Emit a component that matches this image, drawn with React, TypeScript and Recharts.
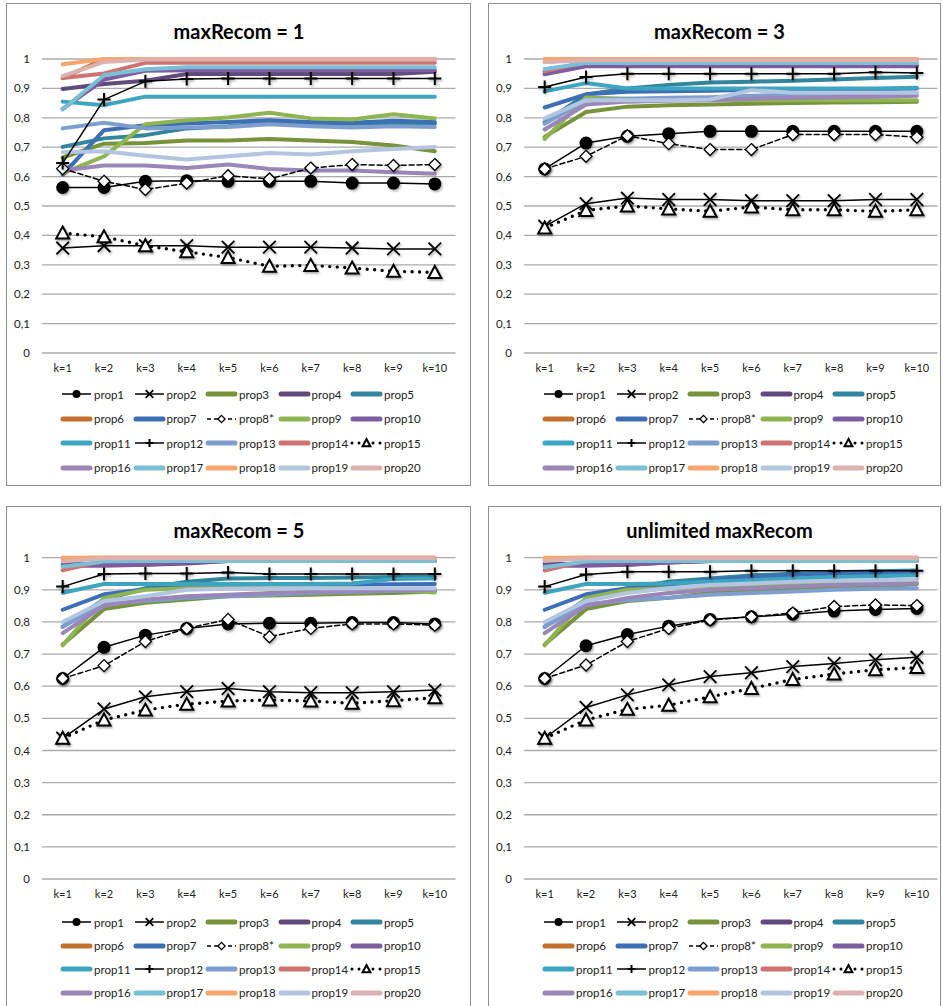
import React from 'react';
import { LineChart, Line, XAxis, YAxis, CartesianGrid } from 'recharts';

const categories = ['k=1', 'k=2', 'k=3', 'k=4', 'k=5', 'k=6', 'k=7', 'k=8', 'k=9', 'k=10'];
const yTicks = [0, 0.1, 0.2, 0.3, 0.4, 0.5, 0.6, 0.7, 0.8, 0.9, 1];
const seriesNames = ['prop1', 'prop2', 'prop3', 'prop4', 'prop5', 'prop6', 'prop7', 'prop8*', 'prop9', 'prop10',
  'prop11', 'prop12', 'prop13', 'prop14', 'prop15', 'prop16', 'prop17', 'prop18', 'prop19', 'prop20'];
const seriesColors = ['#000000', '#000000', '#77933C', '#604A7B', '#31859C', '#C4712F', '#3D6FB6', '#000000', '#8FB452', '#7D5C9F',
  '#3EA5C1', '#000000', '#7E9ECF', '#CF7372', '#000000', '#9A86B9', '#79BFD6', '#F8A66E', '#B3C5E1', '#DDB1B0'];
const panelTitles = ['maxRecom = 1', 'maxRecom = 3', 'maxRecom = 5', 'unlimited maxRecom'];

// ---- maxRecom = 1 ----
const a_prop1 = [0.563, 0.563, 0.584, 0.586, 0.584, 0.584, 0.584, 0.578, 0.578, 0.575];
const a_prop2 = [0.357, 0.365, 0.365, 0.365, 0.36, 0.36, 0.36, 0.357, 0.354, 0.354];
const a_prop3 = [0.665, 0.712, 0.714, 0.723, 0.723, 0.728, 0.723, 0.718, 0.706, 0.686];
const a_prop4 = [0.898, 0.915, 0.926, 0.949, 0.949, 0.949, 0.949, 0.949, 0.949, 0.957];
const a_prop5 = [0.701, 0.73, 0.741, 0.764, 0.771, 0.783, 0.78, 0.78, 0.782, 0.78];
const a_prop6 = [0.935, 1, 1, 1, 1, 1, 1, 1, 1, 1];
const a_prop7 = [0.607, 0.758, 0.775, 0.781, 0.786, 0.792, 0.786, 0.783, 0.79, 0.786];
const a_prop8 = [0.627, 0.584, 0.556, 0.578, 0.603, 0.592, 0.629, 0.641, 0.638, 0.641];
const a_prop9 = [0.612, 0.669, 0.778, 0.792, 0.801, 0.817, 0.798, 0.794, 0.812, 0.798];
const a_prop10 = [0.83, 0.93, 0.96, 0.962, 0.962, 0.962, 0.962, 0.962, 0.962, 0.962];
const a_prop11 = [0.855, 0.843, 0.872, 0.872, 0.872, 0.872, 0.872, 0.872, 0.872, 0.872];
const a_prop12 = [0.646, 0.862, 0.924, 0.932, 0.934, 0.934, 0.934, 0.934, 0.934, 0.934];
const a_prop13 = [0.764, 0.783, 0.764, 0.767, 0.769, 0.778, 0.771, 0.767, 0.771, 0.769];
const a_prop14 = [0.935, 0.951, 0.987, 0.987, 0.987, 0.987, 0.987, 0.987, 0.987, 0.987];
const a_prop15 = [0.408, 0.395, 0.365, 0.344, 0.325, 0.295, 0.298, 0.289, 0.278, 0.274];
const a_prop16 = [0.621, 0.638, 0.638, 0.629, 0.641, 0.626, 0.621, 0.621, 0.615, 0.61];
const a_prop17 = [0.828, 0.945, 0.965, 0.972, 0.972, 0.972, 0.972, 0.972, 0.972, 0.972];
const a_prop18 = [0.982, 1, 1, 1, 1, 1, 1, 1, 1, 1];
const a_prop19 = [0.683, 0.686, 0.671, 0.658, 0.669, 0.68, 0.675, 0.686, 0.694, 0.701];
const a_prop20 = [0.942, 0.99, 0.998, 0.998, 0.998, 0.998, 0.998, 0.998, 0.998, 0.998];

// ---- maxRecom = 3 ----
const b_prop1 = [0.626, 0.714, 0.737, 0.746, 0.754, 0.754, 0.754, 0.754, 0.754, 0.754];
const b_prop2 = [0.431, 0.508, 0.527, 0.522, 0.522, 0.518, 0.518, 0.518, 0.522, 0.522];
const b_prop3 = [0.735, 0.82, 0.838, 0.843, 0.845, 0.848, 0.85, 0.852, 0.853, 0.855];
const b_prop4 = [0.952, 0.977, 0.977, 0.977, 0.977, 0.977, 0.977, 0.977, 0.977, 0.977];
const b_prop5 = [0.785, 0.879, 0.9, 0.912, 0.92, 0.923, 0.926, 0.93, 0.935, 0.94];
const b_prop6 = [0.99, 1, 1, 1, 1, 1, 1, 1, 1, 1];
const b_prop7 = [0.835, 0.88, 0.889, 0.89, 0.892, 0.895, 0.895, 0.895, 0.897, 0.9];
const b_prop8 = [0.626, 0.669, 0.739, 0.712, 0.692, 0.692, 0.743, 0.743, 0.743, 0.734];
const b_prop9 = [0.728, 0.869, 0.865, 0.862, 0.862, 0.86, 0.86, 0.86, 0.86, 0.86];
const b_prop10 = [0.948, 0.975, 0.975, 0.975, 0.975, 0.975, 0.975, 0.975, 0.975, 0.975];
const b_prop11 = [0.89, 0.918, 0.9, 0.9, 0.9, 0.9, 0.9, 0.9, 0.9, 0.902];
const b_prop12 = [0.905, 0.939, 0.95, 0.95, 0.95, 0.95, 0.95, 0.95, 0.955, 0.952];
const b_prop13 = [0.78, 0.86, 0.865, 0.868, 0.87, 0.875, 0.878, 0.88, 0.882, 0.885];
const b_prop14 = [0.958, 0.99, 0.992, 0.992, 0.992, 0.992, 0.992, 0.992, 0.992, 0.992];
const b_prop15 = [0.425, 0.485, 0.5, 0.49, 0.482, 0.497, 0.487, 0.487, 0.482, 0.487];
const b_prop16 = [0.76, 0.845, 0.855, 0.858, 0.86, 0.865, 0.868, 0.87, 0.872, 0.875];
const b_prop17 = [0.966, 0.986, 0.986, 0.986, 0.986, 0.986, 0.986, 0.986, 0.986, 0.986];
const b_prop18 = [1, 1, 1, 1, 1, 1, 1, 1, 1, 1];
const b_prop19 = [0.798, 0.86, 0.86, 0.86, 0.862, 0.894, 0.885, 0.885, 0.885, 0.885];
const b_prop20 = [0.99, 0.996, 0.996, 0.996, 0.996, 0.996, 0.996, 0.996, 0.996, 0.996];

// ---- maxRecom = 5 ----
const c_prop1 = [0.624, 0.721, 0.759, 0.78, 0.794, 0.796, 0.796, 0.798, 0.798, 0.794];
const c_prop2 = [0.438, 0.529, 0.567, 0.583, 0.593, 0.583, 0.58, 0.58, 0.583, 0.588];
const c_prop3 = [0.73, 0.84, 0.86, 0.87, 0.88, 0.882, 0.885, 0.888, 0.89, 0.895];
const c_prop4 = [0.982, 0.978, 0.978, 0.982, 0.99, 0.99, 0.99, 0.99, 0.99, 0.99];
const c_prop5 = [0.785, 0.87, 0.905, 0.925, 0.935, 0.937, 0.937, 0.938, 0.94, 0.94];
const c_prop6 = [0.998, 1, 1, 1, 1, 1, 1, 1, 1, 1];
const c_prop7 = [0.838, 0.886, 0.902, 0.91, 0.912, 0.914, 0.915, 0.916, 0.917, 0.918];
const c_prop8 = [0.624, 0.664, 0.739, 0.78, 0.808, 0.754, 0.78, 0.794, 0.794, 0.79];
const c_prop9 = [0.727, 0.875, 0.9, 0.905, 0.905, 0.905, 0.905, 0.905, 0.9, 0.892];
const c_prop10 = [0.975, 0.975, 0.978, 0.985, 0.99, 0.99, 0.99, 0.99, 0.99, 0.99];
const c_prop11 = [0.891, 0.918, 0.918, 0.918, 0.918, 0.918, 0.918, 0.92, 0.934, 0.935];
const c_prop12 = [0.91, 0.949, 0.951, 0.951, 0.954, 0.949, 0.949, 0.949, 0.949, 0.949];
const c_prop13 = [0.785, 0.855, 0.865, 0.875, 0.88, 0.885, 0.89, 0.893, 0.897, 0.9];
const c_prop14 = [0.961, 0.99, 0.995, 0.995, 0.995, 0.995, 0.995, 0.995, 0.995, 0.995];
const c_prop15 = [0.438, 0.495, 0.526, 0.544, 0.554, 0.557, 0.554, 0.547, 0.555, 0.564];
const c_prop16 = [0.765, 0.85, 0.87, 0.88, 0.885, 0.89, 0.893, 0.895, 0.898, 0.9];
const c_prop17 = [0.972, 0.988, 0.99, 0.99, 0.99, 0.99, 0.99, 0.99, 0.99, 0.99];
const c_prop18 = [1, 1, 1, 1, 1, 1, 1, 1, 1, 1];
const c_prop19 = [0.8, 0.865, 0.88, 0.9, 0.903, 0.905, 0.905, 0.905, 0.905, 0.905];
const c_prop20 = [0.988, 0.998, 0.998, 0.998, 0.998, 0.998, 0.998, 0.998, 0.998, 0.998];

// ---- unlimited maxRecom ----
const d_prop1 = [0.624, 0.726, 0.761, 0.787, 0.808, 0.816, 0.824, 0.834, 0.839, 0.842];
const d_prop2 = [0.438, 0.534, 0.573, 0.604, 0.63, 0.642, 0.661, 0.671, 0.682, 0.69];
const d_prop3 = [0.73, 0.84, 0.865, 0.875, 0.89, 0.895, 0.9, 0.905, 0.91, 0.918];
const d_prop4 = [0.982, 0.978, 0.978, 0.985, 0.99, 0.99, 0.99, 0.99, 0.99, 0.99];
const d_prop5 = [0.785, 0.87, 0.905, 0.925, 0.935, 0.945, 0.95, 0.955, 0.958, 0.96];
const d_prop6 = [0.998, 1, 1, 1, 1, 1, 1, 1, 1, 1];
const d_prop7 = [0.838, 0.886, 0.905, 0.915, 0.93, 0.94, 0.945, 0.95, 0.952, 0.955];
const d_prop8 = [0.624, 0.666, 0.739, 0.78, 0.806, 0.816, 0.828, 0.848, 0.853, 0.851];
const d_prop9 = [0.727, 0.875, 0.9, 0.905, 0.91, 0.912, 0.915, 0.918, 0.92, 0.922];
const d_prop10 = [0.975, 0.975, 0.978, 0.985, 0.99, 0.99, 0.99, 0.99, 0.99, 0.99];
const d_prop11 = [0.891, 0.918, 0.918, 0.92, 0.925, 0.93, 0.935, 0.94, 0.942, 0.945];
const d_prop12 = [0.91, 0.948, 0.956, 0.956, 0.956, 0.959, 0.959, 0.959, 0.959, 0.959];
const d_prop13 = [0.785, 0.855, 0.868, 0.875, 0.885, 0.89, 0.895, 0.9, 0.903, 0.905];
const d_prop14 = [0.96, 0.99, 0.995, 0.995, 0.995, 0.995, 0.995, 0.995, 0.995, 0.995];
const d_prop15 = [0.438, 0.495, 0.528, 0.541, 0.567, 0.593, 0.621, 0.638, 0.651, 0.658];
const d_prop16 = [0.765, 0.85, 0.875, 0.89, 0.9, 0.905, 0.91, 0.915, 0.918, 0.92];
const d_prop17 = [0.97, 0.988, 0.99, 0.99, 0.99, 0.99, 0.99, 0.99, 0.99, 0.99];
const d_prop18 = [1, 1, 1, 1, 1, 1, 1, 1, 1, 1];
const d_prop19 = [0.8, 0.865, 0.89, 0.905, 0.915, 0.92, 0.925, 0.928, 0.93, 0.932];
const d_prop20 = [0.99, 0.998, 0.998, 0.998, 0.998, 0.998, 0.998, 0.998, 0.998, 0.998];

const panelSeries = [
  [a_prop1, a_prop2, a_prop3, a_prop4, a_prop5, a_prop6, a_prop7, a_prop8, a_prop9, a_prop10,
    a_prop11, a_prop12, a_prop13, a_prop14, a_prop15, a_prop16, a_prop17, a_prop18, a_prop19, a_prop20],
  [b_prop1, b_prop2, b_prop3, b_prop4, b_prop5, b_prop6, b_prop7, b_prop8, b_prop9, b_prop10,
    b_prop11, b_prop12, b_prop13, b_prop14, b_prop15, b_prop16, b_prop17, b_prop18, b_prop19, b_prop20],
  [c_prop1, c_prop2, c_prop3, c_prop4, c_prop5, c_prop6, c_prop7, c_prop8, c_prop9, c_prop10,
    c_prop11, c_prop12, c_prop13, c_prop14, c_prop15, c_prop16, c_prop17, c_prop18, c_prop19, c_prop20],
  [d_prop1, d_prop2, d_prop3, d_prop4, d_prop5, d_prop6, d_prop7, d_prop8, d_prop9, d_prop10,
    d_prop11, d_prop12, d_prop13, d_prop14, d_prop15, d_prop16, d_prop17, d_prop18, d_prop19, d_prop20],
];

const FONT = 'Lato, "Liberation Sans", Arial, sans-serif';
const blackIdx = [0, 1, 7, 11, 14];
const markerKind: Record<number, string> = { 0: 'circle', 1: 'x', 7: 'diamond', 11: 'plus', 14: 'triangle' };

function drawMarker(kind: string, cx: number, cy: number, key: any, scale = 1, shadow = true) {
  const s = scale;
  const f = shadow ? 'url(#mkShadow)' : undefined;
  if (kind === 'circle') return <circle key={key} filter={f} cx={cx} cy={cy} r={6.5 * s} fill="#000" />;
  if (kind === 'x') return <path key={key} filter={f} d={`M${cx - 6.3 * s},${cy - 6.3 * s}L${cx + 6.3 * s},${cy + 6.3 * s}M${cx - 6.3 * s},${cy + 6.3 * s}L${cx + 6.3 * s},${cy - 6.3 * s}`} stroke="#000" strokeWidth={1.8} fill="none" />;
  if (kind === 'plus') return <path key={key} filter={f} d={`M${cx - 6.5 * s},${cy}H${cx + 6.5 * s}M${cx},${cy - 6.5 * s}V${cy + 6.5 * s}`} stroke="#000" strokeWidth={2} fill="none" />;
  if (kind === 'diamond') return <path key={key} filter={f} d={`M${cx},${cy - 6 * s}L${cx + 6 * s},${cy}L${cx},${cy + 6 * s}L${cx - 6 * s},${cy}Z`} stroke="#000" strokeWidth={1.3} fill="#fff" />;
  return <path key={key} filter={f} d={`M${cx},${cy - 6.5 * s}L${cx + 6.5 * s},${cy + 5.5 * s}L${cx - 6.5 * s},${cy + 5.5 * s}Z`} stroke="#000" strokeWidth={2} fill="#fff" />;
}

function seriesStyle(j: number) {
  if (j === 0 || j === 1 || j === 11) return { strokeWidth: 1.5, strokeDasharray: undefined as any };
  if (j === 7) return { strokeWidth: 1.5, strokeDasharray: '5 3' };
  if (j === 14) return { strokeWidth: 3.4, strokeDasharray: '0 7.5' };
  return { strokeWidth: 4, strokeDasharray: undefined as any };
}

const fmtY = (v: number) => (v === 0 ? '0' : v === 1 ? '1' : v.toFixed(1).replace('.', ','));

type PanelGeom = { left: number; top: number; width: number; height: number; marginTop: number; marginRight: number };

function Panel({ idx, g }: { idx: number; g: PanelGeom }) {
  const vals = panelSeries[idx];
  const rows = categories.map((c, i) => {
    const r: any = { k: c };
    seriesNames.forEach((n, j) => { r[n] = vals[j][i]; });
    return r;
  });
  const order = seriesNames.map((_, j) => j).filter((j) => !blackIdx.includes(j)).concat(blackIdx);
  const plotW = g.width - 42 - g.marginRight;
  const pad = plotW / categories.length / 2;
  return (
    <div style={{ position: 'absolute', left: g.left, top: g.top }}>
      <LineChart width={g.width} height={g.height} data={rows}
        margin={{ top: g.marginTop, right: g.marginRight, left: 12, bottom: 0 }}>
        <CartesianGrid vertical={false} stroke="#ababab" strokeWidth={1.3} />
        <XAxis dataKey="k" axisLine={false} tickLine={false} tickSize={0} tickMargin={11} height={27} interval={0}
          padding={{ left: pad, right: pad }}
          tick={{ fontSize: 11, fill: '#222', fontFamily: FONT }} />
        <YAxis domain={[0, 1]} ticks={yTicks} tickFormatter={fmtY} axisLine={false} tickLine={false} tickSize={0}
          tickMargin={12} width={30} interval={0} tick={{ fontSize: 11.5, fill: '#222', fontFamily: FONT }} />
        {order.map((j) => {
          const st = seriesStyle(j);
          const kind = markerKind[j];
          return (
            <Line key={seriesNames[j]} type="linear" dataKey={seriesNames[j]} stroke={seriesColors[j]}
              strokeWidth={st.strokeWidth} strokeDasharray={st.strokeDasharray}
              strokeLinecap="round" strokeLinejoin="round" isAnimationActive={false}
              dot={kind ? (p: any) => drawMarker(kind, p.cx, p.cy, `${seriesNames[j]}-${p.index}`) : false}
              activeDot={false} />
          );
        })}
      </LineChart>
    </div>
  );
}

function LegendItem({ j }: { j: number }) {
  const kind = markerKind[j];
  const st = seriesStyle(j);
  const isBlack = blackIdx.includes(j);
  return (
    <div style={{ display: 'flex', alignItems: 'center', width: 72.5, height: 14 }}>
      <svg width={33} height={14} style={{ flex: 'none' }}>
        {isBlack ? (
          <g>
            <line x1={2} y1={7} x2={31} y2={7} stroke="#000" strokeWidth={j === 14 ? 3 : 1.5}
              strokeDasharray={j === 14 ? '0 7' : j === 7 ? '4 3' : undefined} strokeLinecap={j === 14 ? 'round' : 'butt'} />
            {drawMarker(kind, 16.5, 7, 'm', j === 0 ? 0.62 : 0.6, false)}
          </g>
        ) : (
          <line x1={3} y1={7} x2={30} y2={7} stroke={seriesColors[j]} strokeWidth={st.strokeWidth + 1} strokeLinecap="round" />
        )}
      </svg>
      <span style={{ fontSize: 11.5, fontFamily: FONT, color: '#222', marginLeft: 1, whiteSpace: 'nowrap' }}>{seriesNames[j]}</span>
    </div>
  );
}

function LegendBlock({ left, top, rowGap }: { left: number; top: number; rowGap: number }) {
  const rows = [0, 1, 2, 3];
  return (
    <div style={{ position: 'absolute', left, top }}>
      {rows.map((r) => (
        <div key={r} style={{ display: 'flex', height: rowGap }}>
          {[0, 1, 2, 3, 4].map((c) => <LegendItem key={c} j={r * 5 + c} />)}
        </div>
      ))}
    </div>
  );
}

const boxStyle = (left: number, top: number, width: number, height: number): React.CSSProperties => ({
  position: 'absolute', left, top, width, height, boxSizing: 'border-box', border: '1.5px solid #8f8f8f', background: '#fff',
});

const titleStyle = (cx: number, cy: number): React.CSSProperties => ({
  position: 'absolute', left: cx - 150, width: 300, top: cy - 13, height: 26, lineHeight: '26px', textAlign: 'center',
  fontFamily: FONT, fontWeight: 700, fontSize: 20, color: '#000',
});

export default function App() {
  return (
    <div style={{ position: 'absolute', left: 0, top: 0, width: 943, height: 1006, overflow: 'hidden', background: '#fff' }}>
      <svg width={0} height={0} style={{ position: 'absolute' }}>
        <defs>
          <filter id="mkShadow" x="-50%" y="-50%" width="200%" height="200%">
            <feDropShadow dx={1.2} dy={1.5} stdDeviation={1} floodColor="#000" floodOpacity={0.35} />
          </filter>
        </defs>
      </svg>
      <div style={boxStyle(6, 3, 465, 483)} />
      <div style={boxStyle(488, 3, 453, 483)} />
      <div style={boxStyle(6, 506, 465, 510)} />
      <div style={boxStyle(488, 506, 453, 510)} />

      <div style={titleStyle(239, 31)}>{panelTitles[0]}</div>
      <div style={titleStyle(719.5, 31)}>{panelTitles[1]}</div>
      <div style={titleStyle(239, 530)}>{panelTitles[2]}</div>
      <div style={titleStyle(719.5, 530)}>{panelTitles[3]}</div>

      <Panel idx={0} g={{ left: 0, top: 0, width: 470, height: 380, marginTop: 59, marginRight: 14.5 }} />
      <Panel idx={1} g={{ left: 482, top: 0, width: 461, height: 380, marginTop: 59, marginRight: 5.5 }} />
      <Panel idx={2} g={{ left: 0, top: 500, width: 470, height: 406, marginTop: 57.7, marginRight: 14.5 }} />
      <Panel idx={3} g={{ left: 482, top: 500, width: 461, height: 406, marginTop: 57.7, marginRight: 5.5 }} />

      <LegendBlock left={60} top={387} rowGap={24.5} />
      <LegendBlock left={542} top={387} rowGap={24.5} />
      <LegendBlock left={60} top={915} rowGap={23.5} />
      <LegendBlock left={542} top={915} rowGap={23.5} />
    </div>
  );
}
